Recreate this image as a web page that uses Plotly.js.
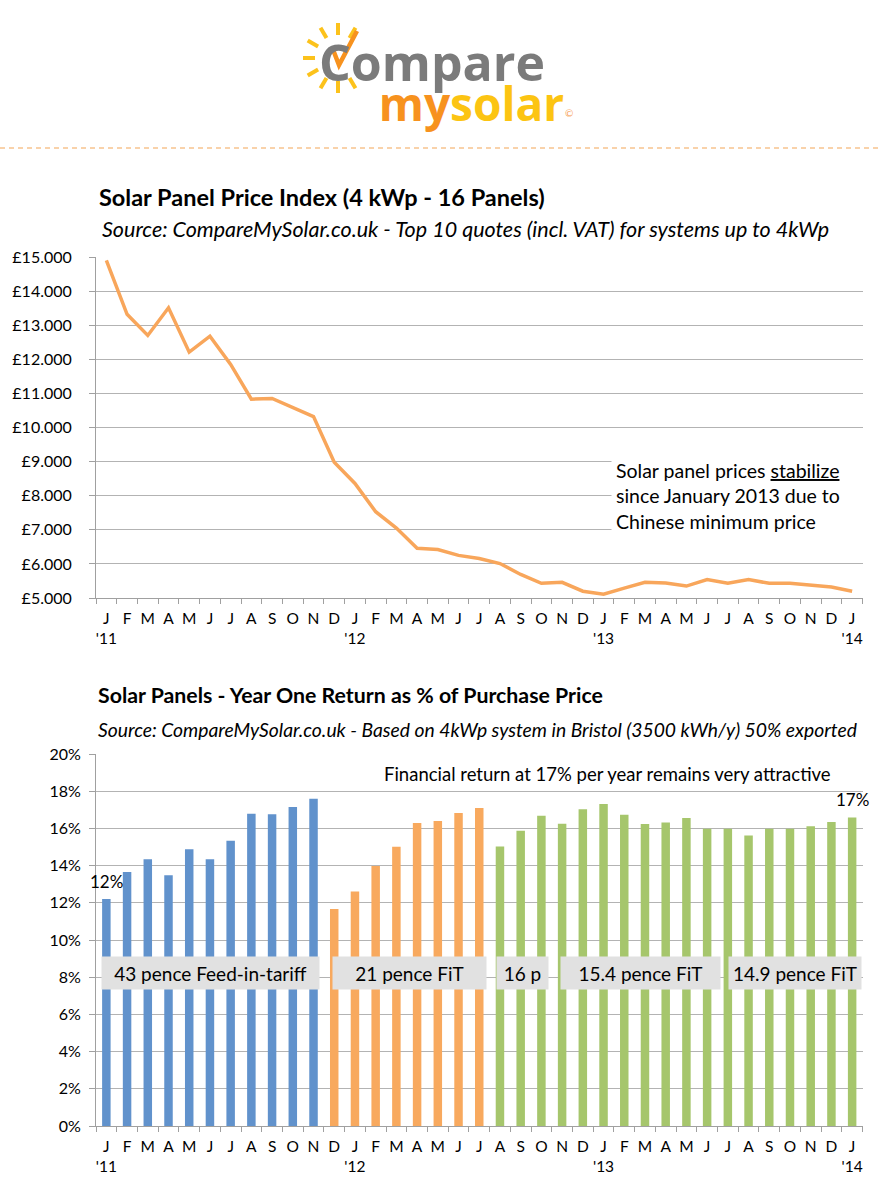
<!DOCTYPE html>
<html><head><meta charset="utf-8">
<script src="https://cdn.plot.ly/plotly-3.0.1.min.js"></script>
<style>html,body{margin:0;padding:0;background:#fff;} #chart{width:880px;height:1197px;}</style>
</head><body><div id="chart"></div>
<script>
// ---------- DATA ----------
const monthLetters = ['J','F','M','A','M','J','J','A','S','O','N','D',
                      'J','F','M','A','M','J','J','A','S','O','N','D',
                      'J','F','M','A','M','J','J','A','S','O','N','D','J'];
const yearLabels = ["'11",'','','','','','','','','','','',
                    "'12",'','','','','','','','','','','',
                    "'13",'','','','','','','','','','','',"'14"];
// Solar panel price index (GBP), Jan 2011 .. Jan 2014
const priceValues = [14900,13320,12700,13510,12210,12680,11850,10830,10850,10590,10320,8980,
                     8360,7530,7050,6460,6420,6250,6160,6010,5690,5430,5460,5200,
                     5110,5290,5460,5440,5350,5540,5430,5540,5430,5430,5380,5320,5200];
const priceTickValues = [5000,6000,7000,8000,9000,10000,11000,12000,13000,14000,15000];
const priceTickLabels = ['£5.000','£6.000','£7.000','£8.000','£9.000','£10.000','£11.000','£12.000','£13.000','£14.000','£15.000'];
// Year-one return (% of purchase price), by tariff period
const return43p = [12.2,13.66,14.34,13.48,14.88,14.34,15.33,16.79,16.76,17.15,17.6];        // Jan-Nov 2011
const return21p = [11.66,12.61,13.98,15.01,16.29,16.4,16.83,17.1];                        // Dec 2011-Jul 2012
const returnLater = [15.03,15.87,16.68,16.25,17.03,17.31,16.74,16.23,16.32,16.56,15.98,15.98,
                     15.62,15.98,15.98,16.11,16.34,16.59];                                // Aug 2012-Jan 2014
const returnTickValues = [0,2,4,6,8,10,12,14,16,18,20];
const returnTickLabels = ['0%','2%','4%','6%','8%','10%','12%','14%','16%','18%','20%'];
const fitLabels = ['43 pence Feed-in-tariff','21 pence FiT','16 p','15.4 pence FiT','14.9 pence FiT'];

// ---------- HELPERS ----------
const W = 880, H = 1197;
const px = x => x / W;
const py = y => 1 - y / H;
const FONT = 'Lato, "Open Sans", sans-serif';
const GRID = '#b3b3b3';
const idx = monthLetters.map((_, i) => i);
const tickText = monthLetters.map((m, i) => yearLabels[i] ? m + '<br>' + yearLabels[i] : m);

const xBlue = return43p.map((_, i) => i);
const xOrange = return21p.map((_, i) => i + return43p.length);
const xGreen = returnLater.map((_, i) => i + return43p.length + return21p.length);

const traces = [
  {type:'scatter', mode:'lines', x: idx, y: priceValues, xaxis:'x', yaxis:'y',
   line:{color:'#f8a65b', width:3.5}, hoverinfo:'skip'},
  {type:'bar', x: xBlue, y: return43p, xaxis:'x2', yaxis:'y2', width:0.41,
   marker:{color:'#6192cc'}, hoverinfo:'skip'},
  {type:'bar', x: xOrange, y: return21p, xaxis:'x2', yaxis:'y2', width:0.41,
   marker:{color:'#f8a95e'}, hoverinfo:'skip'},
  {type:'bar', x: xGreen, y: returnLater, xaxis:'x2', yaxis:'y2', width:0.41,
   marker:{color:'#a6c66c'}, hoverinfo:'skip'}
];

function xAxis(anchor){
  return {domain:[px(96), px(862.5)], range:[-0.5, 36.5], anchor: anchor,
    tickmode:'array', tickvals: idx, ticktext: tickText, ticks:'',
    tickfont:{family:FONT, size:15.5, color:'#000'},
    showgrid:false, zeroline:false, showline:true, linecolor:'#a0a0a0', linewidth:1,
    ticklabelstandoff: 6,
    minor:{tickmode:'linear', tick0:0.5, dtick:1, ticks:'outside', ticklen:5, tickcolor:'#a0a0a0', showgrid:false},
    fixedrange:true};
}
function yAxis(anchor, dom, rng, vals, labs, standoff){
  return {domain: dom, range: rng, anchor: anchor, tickmode:'array', tickvals: vals, ticktext: labs,
    ticks:'outside', ticklen:6, tickcolor:'#a0a0a0', tickfont:{family:FONT, size:16, color:'#000'},
    showgrid:true, gridcolor:GRID, gridwidth:1, zeroline:false, showline:true, linecolor:'#a0a0a0', linewidth:1,
    ticklabelstandoff: standoff, fixedrange:true};
}

const annotations = [];
function txt(text, x, y, size, opts){
  annotations.push(Object.assign({text:text, xref:'paper', yref:'paper', x:px(x), y:py(y),
    xanchor:'left', yanchor:'middle', showarrow:false,
    font:{family:FONT, size:size, color:'#000'}}, opts||{}));
}
// Logo (one two-line text block)
const NB = '\u00A0';
txt('<span style="font-size:50px;color:#7b7b7b">Compare</span><br>' +
    '<span style="font-size:46px">' + NB.repeat(5) + '<span style="color:#f7921e">my</span><span style="color:#fcc412">solar</span></span>',
    317, 81, 31, {align:'left', font:{family:'"Open Sans", sans-serif', size:31, color:'#fcc412', weight:700}});
txt('©', 563, 113, 10, {font:{family:FONT, size:10, color:'#f7a35a'}});

// Titles
txt('<b>Solar Panel Price Index (4 kWp - 16 Panels)</b>', 97, 197, 23.5);
txt('<i>Source: CompareMySolar.co.uk - Top 10 quotes (incl. VAT) for systems up to 4kWp</i>', 100, 229, 21.5);
txt('<b>Solar Panels - Year One Return as % of Purchase Price</b>', 96, 695, 21.3);
txt('<i>Source: CompareMySolar.co.uk - Based on 4kWp system in Bristol (3500 kWh/y) 50% exported</i>', 96, 729, 19.3);

// Price note
annotations.push({text:'Solar panel prices <u>stabilize</u><br>since January 2013 due to<br>Chinese minimum price',
  xref:'paper', yref:'paper', x:px(611), y:py(496), xanchor:'left', yanchor:'middle', align:'left',
  showarrow:false, bgcolor:'#ffffff', borderpad:4, width:243,
  font:{family:FONT, size:19.5, color:'#000'}});
// Return note
annotations.push({text:'Financial return at 17% per year remains very attractive', xref:'paper', yref:'paper',
  x:px(607), y:py(774), xanchor:'center', yanchor:'middle', showarrow:false,
  font:{family:FONT, size:18.5, color:'#000'}});
// Data labels on first and last bar
[[xBlue[0], return43p[0]], [xGreen[xGreen.length-1], returnLater[returnLater.length-1]]].forEach(([xv, yv]) => {
  annotations.push({text: Math.round(yv) + '%', xref:'x2', yref:'y2', x:xv, y:yv, yanchor:'bottom',
    xanchor:'center', yshift:5, showarrow:false, font:{family:FONT, size:17, color:'#000'}});
});
// Tariff boxes (left, right in px)
const boxPos = [[102,319],[333,486],[497,548],[561,720],[729,861]];
fitLabels.forEach((t, i) => {
  const [l, r] = boxPos[i];
  annotations.push({text:t, xref:'paper', yref:'paper', x:px((l+r)/2), y:py(973), xanchor:'center', yanchor:'middle',
    width: r - l, height:32, borderpad:0, bgcolor:'#e1e1e1', showarrow:false, align:'center',
    font:{family:FONT, size:19, color:'#000'}});
});

// Shapes: sun rays, check mark, dashed separator
const shapes = [];
const cx = 338, cy = 58;
for (let a = 60; a <= 300; a += 30) {
  const rad = a * Math.PI / 180;
  shapes.push({type:'line', xref:'paper', yref:'paper',
    x0:px(cx + 23*Math.cos(rad)), y0:py(cy - 23*Math.sin(rad)),
    x1:px(cx + 35*Math.cos(rad)), y1:py(cy - 35*Math.sin(rad)),
    line:{color:'#fcc21b', width:4}});
}
shapes.push({type:'path', xref:'paper', yref:'paper',
  path:`M ${px(332)} ${py(47)} L ${px(339)} ${py(65)} L ${px(357)} ${py(31)}`,
  line:{color:'#f7921e', width:4.5}});
shapes.push({type:'line', xref:'paper', yref:'paper', x0:0, x1:1, y0:py(148), y1:py(148),
  line:{color:'#f8c48e', width:1.5, dash:'5px,4px'}});

const layout = {
  width:W, height:H, margin:{l:0,r:0,t:0,b:0}, paper_bgcolor:'#fff', plot_bgcolor:'#fff',
  showlegend:false, barmode:'overlay', font:{family:FONT, color:'#000'},
  xaxis: xAxis('y'),
  yaxis: yAxis('x', [py(598), py(257)], [5000,15000], priceTickValues, priceTickLabels, 14),
  xaxis2: xAxis('y2'),
  yaxis2: yAxis('x2', [py(1126), py(754)], [0,20], returnTickValues, returnTickLabels, 5),
  annotations: annotations, shapes: shapes
};
Plotly.newPlot('chart', traces, layout, {staticPlot:true, displayModeBar:false});
</script></body></html>
